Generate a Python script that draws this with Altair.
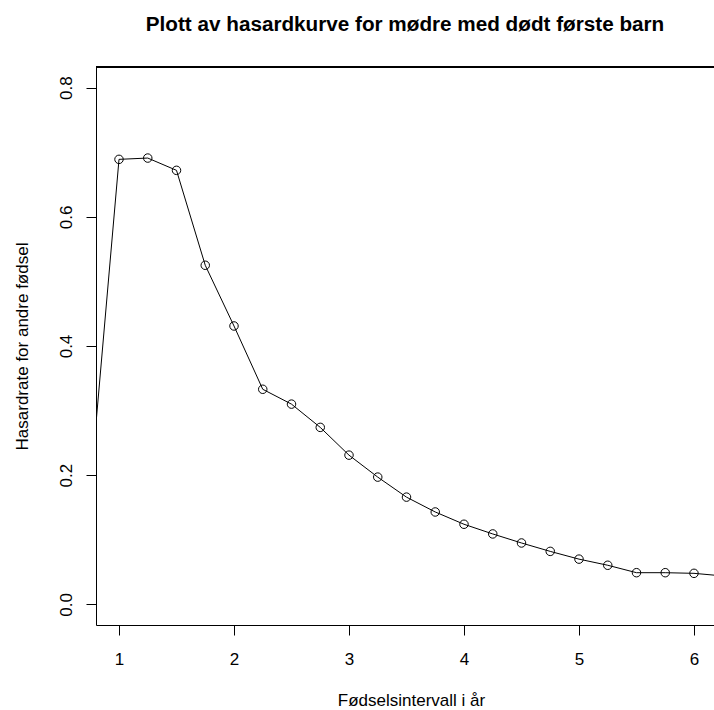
import altair as alt
import pandas as pd

# Data
intervall = [0.75, 1.0, 1.25, 1.5, 1.75, 2.0, 2.25, 2.5, 2.75, 3.0, 3.25, 3.5,
             3.75, 4.0, 4.25, 4.5, 4.75, 5.0, 5.25, 5.5, 5.75, 6.0, 6.25]
hasard = [0.178, 0.689, 0.691, 0.672, 0.525, 0.431, 0.333, 0.310, 0.274, 0.231,
          0.197, 0.166, 0.143, 0.124, 0.109, 0.095, 0.082, 0.070, 0.0605, 0.049,
          0.049, 0.048, 0.044]
x_ticks = [1, 2, 3, 4, 5, 6]
y_ticks = [0.0, 0.2, 0.4, 0.6, 0.8]

df = pd.DataFrame({"x": intervall, "y": hasard})

FONT = "Liberation Sans"
W, H = 618, 558

xscale = alt.Scale(domain=[0.8, 6.174], nice=False, zero=False)
yscale = alt.Scale(domain=[-0.032, 0.832], nice=False, zero=False)

xaxis = alt.Axis(
    values=x_ticks, format="d", title="Fødselsintervall i år",
    grid=False, tickSize=10, tickColor="black", tickWidth=1,
    domainColor="black", domainWidth=1,
    labelFont=FONT, labelFontSize=17, labelColor="black",
    labelBaseline="alphabetic", labelPadding=29,
    titleFont=FONT, titleFontSize=17, titleFontWeight="normal", titleColor="black",
    titleBaseline="alphabetic", titleY=80, titleX=W / 2 + 6,
)
yaxis = alt.Axis(
    values=y_ticks, format=".1f", title="Hasardrate for andre fødsel",
    grid=False, tickSize=10, tickColor="black", tickWidth=1,
    domainColor="black", domainWidth=1,
    labelFont=FONT, labelFontSize=17, labelColor="black",
    labelAngle=270, labelAlign="center", labelBaseline="alphabetic", labelPadding=15,
    titleFont=FONT, titleFontSize=17, titleFontWeight="normal", titleColor="black",
    titleAngle=270, titleAlign="center", titleBaseline="alphabetic",
    titleX=-69, titleY=H / 2,
)

base = alt.Chart(df)
line = base.mark_line(color="black", strokeWidth=1, clip=True).encode(
    x=alt.X("x:Q", scale=xscale, axis=xaxis),
    y=alt.Y("y:Q", scale=yscale, axis=yaxis),
)
points = base.mark_point(shape="circle", filled=False, color="black", size=72,
                         strokeWidth=1, opacity=1, clip=True).encode(
    x=alt.X("x:Q", scale=xscale),
    y=alt.Y("y:Q", scale=yscale),
)
top_border = alt.Chart(df).mark_rule(color="black", strokeWidth=1).encode(
    x=alt.value(0), x2=alt.value(W + 5), y=alt.value(0)
)

chart = alt.layer(line, points, top_border).properties(
    width=W, height=H,
    title=alt.TitleParams(
        "Plott av hasardkurve for mødre med dødt første barn",
        font=FONT, fontSize=20.7, fontWeight="bold", color="black",
        anchor="middle", frame="group", baseline="alphabetic", offset=15,
    ),
    padding={"left": 96, "top": 67, "right": 0, "bottom": 85},
    autosize=alt.AutoSizeParams(type="none"),
    background="white",
).configure_view(stroke=None)

chart.save("out.html", embed_options={"renderer": "svg", "actions": False})
